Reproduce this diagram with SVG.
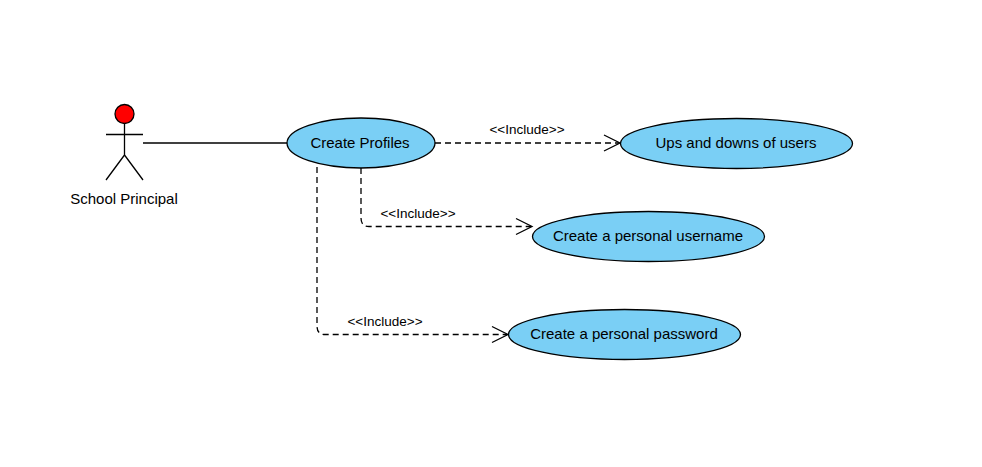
<svg xmlns="http://www.w3.org/2000/svg" width="982" height="467" viewBox="0 0 982 467">
<style>
text{font-family:"Liberation Sans",Arial,sans-serif;fill:#000}
.n{font-size:15px;text-anchor:middle}
.l{font-size:13.500px;text-anchor:middle}
.u{fill:#7acff5;stroke:#000;stroke-width:1.3}
.a{fill:none;stroke:#000;stroke-width:1.3}
.d{fill:none;stroke:#000;stroke-width:1.3;stroke-dasharray:6 4}
</style>
<rect width="982" height="467" fill="#fff"/>
<g id="connectors">
<path class="a" d="M143 143H287"/>
<path class="d" d="M435 143H619"/><path class="a" d="M604 135L620 143L604 151"/>
<path class="d" d="M361 168V218Q361 226.500 369 226.500H531"/><path class="a" d="M516 218.500L532 226.500L516 234.500"/>
<path class="d" d="M317 167V326Q317 334.500 325 334.500H507"/><path class="a" d="M492 326.500L508 334.500L492 342.500"/>
<text class="l" x="527" y="134">&lt;&lt;Include&gt;&gt;</text>
<text class="l" x="418" y="218">&lt;&lt;Include&gt;&gt;</text>
<text class="l" x="385" y="326">&lt;&lt;Include&gt;&gt;</text>
</g>
<g id="actor">
<circle cx="124.500" cy="114" r="9.500" fill="#f00" stroke="#000" stroke-width="1.300"/>
<path class="a" d="M124.500 123.500V155M106 134.500H143M124.500 155L106 180M124.500 155L143 180"/>
<text class="n" x="124" y="204">School Principal</text>
</g>
<g id="create-profiles"><ellipse class="u" cx="361" cy="143" rx="74" ry="25"/><text class="n" x="360" y="148">Create Profiles</text></g>
<g id="ups-downs"><ellipse class="u" cx="736.500" cy="143.500" rx="116" ry="25"/><text class="n" x="736" y="148">Ups and downs of users</text></g>
<g id="username"><ellipse class="u" cx="648.500" cy="236.500" rx="116" ry="25"/><text class="n" x="648" y="241">Create a personal username</text></g>
<g id="password"><ellipse class="u" cx="624.500" cy="334.500" rx="116" ry="25"/><text class="n" x="624" y="339">Create a personal password</text></g>
</svg>
